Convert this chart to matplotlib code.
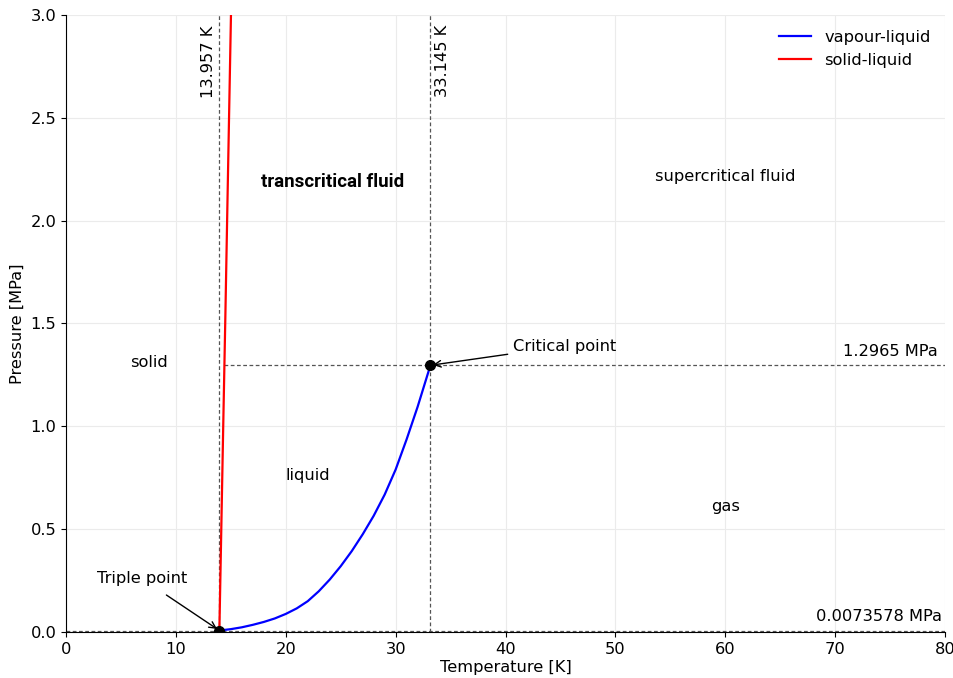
import numpy as np
import matplotlib
matplotlib.use("Agg")
import matplotlib.pyplot as plt

# hydrogen reference points
T_TRIPLE = 13.957
P_TRIPLE = 0.0073578
T_CRIT = 33.145
P_CRIT = 1.2965

# vapour pressure curve [K], [MPa]
vap_T = [13.957, 15, 16, 17, 18, 19, 20, 21, 22, 23, 24, 25, 26, 27, 28,
         29, 30, 31, 32, 33, 33.145]
vap_P = [0.0073578, 0.014, 0.023, 0.035, 0.049, 0.066, 0.088, 0.115, 0.150,
         0.198, 0.255, 0.320, 0.393, 0.475, 0.565, 0.668, 0.790, 0.937,
         1.095, 1.268, 1.2965]

# melting curve [K], [MPa]
melt_T = [13.957, 14.1, 14.3, 14.5, 14.7, 14.9, 15.1]
melt_P = [0.0073578, 0.41, 0.98, 1.53, 2.11, 2.68, 3.25]

FS = 11.7

fig = plt.figure(figsize=(9.54, 6.78), dpi=100)
ax = fig.add_axes([0.0692, 0.0678, 0.9214, 0.9102])

ax.grid(True, color="#ebebeb", linewidth=0.8)
ax.set_axisbelow(True)
for side in ["top", "right"]:
    ax.spines[side].set_visible(False)

ax.plot(vap_T, vap_P, color="blue", linewidth=1.6, label="vapour-liquid")
ax.plot(melt_T, melt_P, color="red", linewidth=1.6, label="solid-liquid")

# guide lines through triple and critical point
dash = dict(color="#555555", linestyle=(0, (3, 2)), linewidth=0.9, zorder=1)
ax.axvline(T_TRIPLE, **dash)
ax.axvline(T_CRIT, **dash)
ax.axhline(P_TRIPLE, **dash)
t_melt_crit = np.interp(P_CRIT, melt_P, melt_T)
ax.plot([t_melt_crit, 80], [P_CRIT, P_CRIT], **dash)

ax.plot([T_TRIPLE, T_CRIT], [P_TRIPLE, P_CRIT], "o", color="black",
        markersize=7, zorder=5)

ax.text(T_TRIPLE - 0.3, 2.95, f"{T_TRIPLE:.3f} K", rotation=90,
        ha="right", va="top", fontsize=FS)
ax.text(T_CRIT + 0.4, 2.95, f"{T_CRIT:.3f} K", rotation=90,
        ha="left", va="top", fontsize=FS)
ax.text(79.3, P_CRIT + 0.03, f"{P_CRIT} MPa", ha="right", va="bottom",
        fontsize=FS)
ax.text(79.7, P_TRIPLE + 0.03, f"{P_TRIPLE} MPa", ha="right", va="bottom",
        fontsize=FS)

ax.annotate("Triple point", xy=(T_TRIPLE, P_TRIPLE), xytext=(6.9, 0.26),
            ha="center", va="center", fontsize=FS,
            arrowprops=dict(arrowstyle="->", color="black", lw=1,
                            shrinkA=8, shrinkB=2))
ax.annotate("Critical point", xy=(T_CRIT, P_CRIT), xytext=(40.7, 1.39),
            ha="left", va="center", fontsize=FS,
            arrowprops=dict(arrowstyle="->", color="black", lw=1,
                            shrinkA=2, shrinkB=2))

ax.text(7.55, 1.31, "solid", ha="center", va="center", fontsize=FS)
ax.text(22.0, 0.76, "liquid", ha="center", va="center", fontsize=FS)
ax.text(60.0, 0.61, "gas", ha="center", va="center", fontsize=FS)
ax.text(60.0, 2.215, "supercritical fluid", ha="center", va="center",
        fontsize=FS)
ax.text(24.3, 2.19, "transcritical fluid", ha="center", va="center",
        fontsize=13.5, fontweight="bold", family="Roboto")

ax.set_xlim(0, 80)
ax.set_ylim(0, 3.0)
ax.set_yticks(np.arange(0, 3.01, 0.5))
ax.yaxis.set_major_formatter(matplotlib.ticker.FormatStrFormatter("%.1f"))
ax.tick_params(labelsize=FS)
ax.set_xlabel("Temperature [K]", fontsize=FS, labelpad=2)
ax.set_ylabel("Pressure [MPa]", fontsize=FS, labelpad=4)

ax.legend(loc="upper right", frameon=False, fontsize=FS)

fig.savefig("out.png", dpi=100)
